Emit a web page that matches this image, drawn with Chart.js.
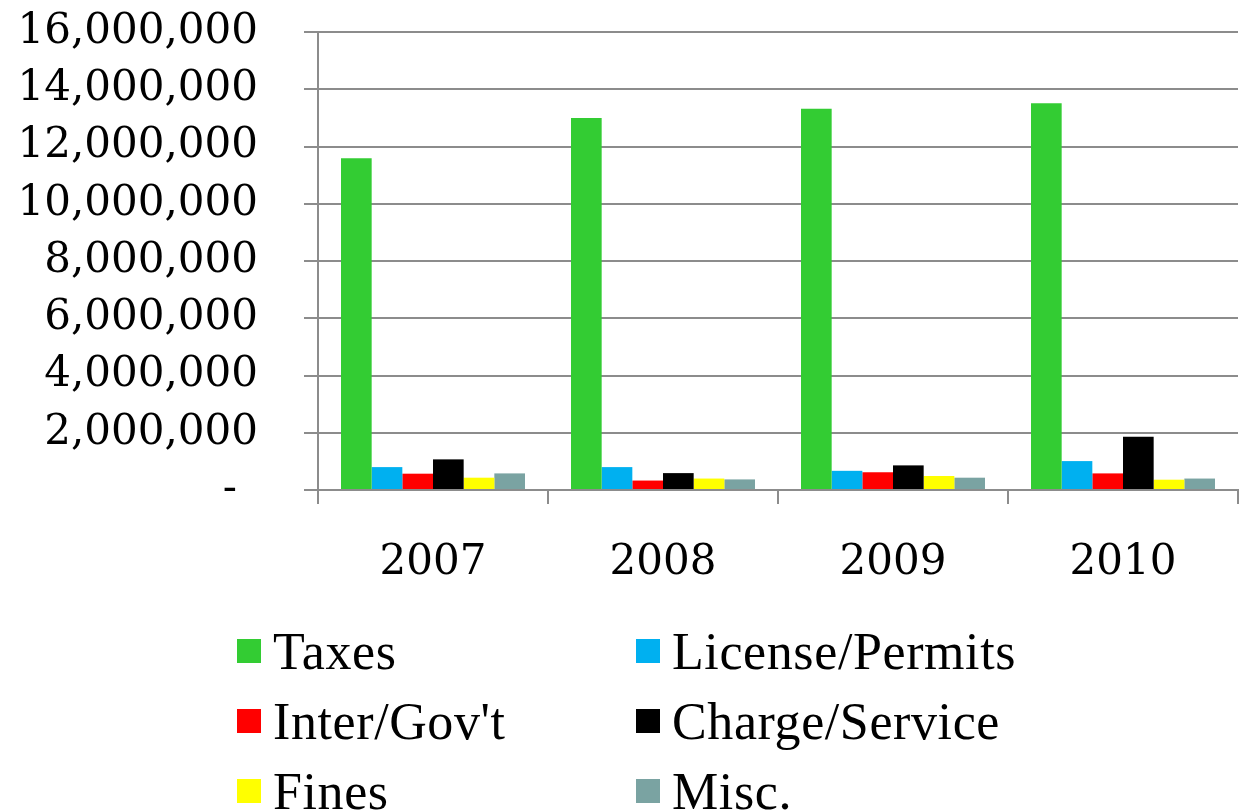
<!DOCTYPE html>
<html>
<head>
<meta charset="utf-8">
<script src="https://cdn.jsdelivr.net/npm/chart.js@4.4.1/dist/chart.umd.min.js"></script>
<style>
    html, body { margin: 0; padding: 0; background: #fff; }
    #wrap { position: relative; width: 1241px; height: 812px; overflow: hidden; }
    #chartBox { position: absolute; left: 0; top: 0; width: 1241px; height: 600px; }
    #leyenda { position: absolute; left: 237px; top: 616px; display: grid;
        grid-template-columns: 399px 400px; row-gap: 0; font-family: "Liberation Serif", serif;
        font-size: 52px; letter-spacing: 0.6px; color: #000; }
    .item { display: flex; align-items: center; height: 70px; }
    .caja { width: 24px; height: 24px; margin-right: 12px; flex: none; }
</style>
</head>
<body>
<div id="wrap">
    <div id="chartBox"><canvas id="miGrafico"></canvas></div>
    <div id="leyenda"></div>
</div>
<script>
const anios = ['2007', '2008', '2009', '2010'];
const taxes = [11590000, 13000000, 13320000, 13510000];
const licencias = [800000, 800000, 670000, 1010000];
const interGov = [570000, 330000, 620000, 580000];
const cargos = [1070000, 590000, 860000, 1860000];
const multas = [430000, 400000, 490000, 360000];
const varios = [580000, 370000, 430000, 400000];
const ticksY = [0, 2000000, 4000000, 6000000, 8000000, 10000000, 12000000, 14000000, 16000000];

const series = [
    { label: 'Taxes', data: taxes, color: '#33CC33' },
    { label: 'License/Permits', data: licencias, color: '#00B0F0' },
    { label: 'Inter/Gov\'t', data: interGov, color: '#FF0000' },
    { label: 'Charge/Service', data: cargos, color: '#000000' },
    { label: 'Fines', data: multas, color: '#FFFF00' },
    { label: 'Misc.', data: varios, color: '#7AA3A2' }
];

const grisEje = '#8C8C8C';
const fuenteEje = { family: '"DejaVu Serif", serif', size: 42 };

const htmlLegend = {
    id: 'htmlLegend',
    afterUpdate(chart) {
        const cont = document.getElementById('leyenda');
        cont.innerHTML = '';
        const items = chart.options.plugins.legend.labels.generateLabels(chart);
        items.forEach(item => {
            const fila = document.createElement('div');
            fila.className = 'item';
            const caja = document.createElement('span');
            caja.className = 'caja';
            caja.style.background = item.fillStyle;
            const texto = document.createElement('span');
            texto.textContent = item.text;
            fila.appendChild(caja);
            fila.appendChild(texto);
            cont.appendChild(fila);
        });
    }
};

const ctx = document.getElementById('miGrafico').getContext('2d');
new Chart(ctx, {
    type: 'bar',
    data: {
        labels: anios,
        datasets: series.map(s => ({
            label: s.label,
            data: s.data,
            backgroundColor: s.color,
            borderWidth: 0,
            categoryPercentage: 0.8,
            barPercentage: 1.0
        }))
    },
    options: {
        responsive: true,
        maintainAspectRatio: false,
        animation: false,
        layout: { padding: { top: 32, right: 3, left: 0, bottom: 0 } },
        plugins: {
            legend: { display: false },
            tooltip: { enabled: false }
        },
        scales: {
            x: {
                grid: { offset: true, drawOnChartArea: false, drawTicks: true, tickLength: 14, color: grisEje, lineWidth: 2 },
                border: { display: true, color: grisEje, width: 2 },
                ticks: { color: '#000', font: fuenteEje, padding: 34 },
                afterFit(scale) { scale.height = 110; }
            },
            y: {
                min: 0,
                max: 16000000,
                afterBuildTicks(scale) { scale.ticks = ticksY.map(v => ({ value: v })); },
                grid: { color: grisEje, lineWidth: 2, tickLength: 14 },
                border: { display: true, color: grisEje, width: 2 },
                ticks: {
                    color: '#000',
                    font: fuenteEje,
                    padding: 46,
                    autoSkip: false,
                    callback: function(valor) {
                        if (valor === 0) return '-\u2002';
                        return valor.toLocaleString('en-US');
                    }
                },
                afterFit(scale) {
                    scale.width = 318;
                    scale.paddingTop = 0;
                    scale.paddingBottom = 0;
                }
            }
        }
    },
    plugins: [htmlLegend]
});
</script>
</body>
</html>
